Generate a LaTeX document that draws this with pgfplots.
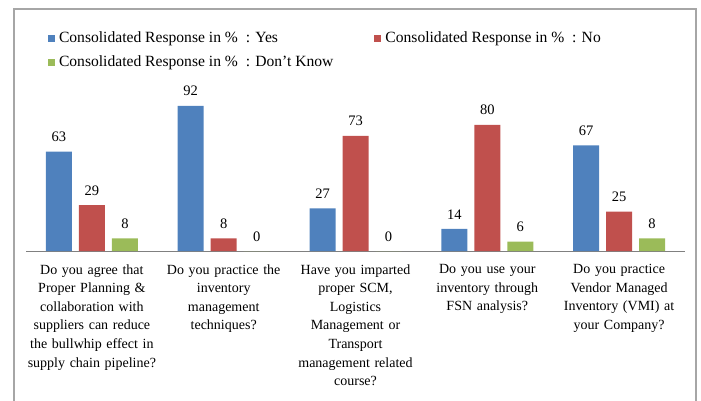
\documentclass[border=0pt]{standalone}
\usepackage{pgfplots}
\pgfplotsset{compat=1.18}
\usepackage{fontspec}
\setmainfont{Liberation Serif}
\definecolor{cblue}{HTML}{4F81BD}
\definecolor{cred}{HTML}{C0504D}
\definecolor{cgreen}{HTML}{9BBB59}
\definecolor{frame}{HTML}{A6A6A6}
\pgfplotsset{sqleg/.style={legend image code/.code={\fill[#1] (0pt,-3.5pt) rectangle (7pt,3.5pt);}}}
\begin{document}
\begin{tikzpicture}[x=1pt,y=1pt]
\begin{axis}[
  at={(0pt,0pt)}, anchor=south west,
  scale only axis,
  width=659pt, height=157.8pt,
  ybar=7pt, bar width=26pt,
  xmin=-0.5, xmax=4.5, ymin=0, ymax=100,
  axis x line*=bottom, axis y line=none,
  x axis line style={draw=gray, line width=0.9pt, -},
  xtick={0,1,2,3,4},
  xtick style={draw=none},
  xticklabels={
    {Do you agree that\\Proper Planning \&\\collaboration with\\suppliers can reduce\\the bullwhip effect in\\supply chain pipeline?},
    {Do you practice the\\inventory\\management\\techniques?},
    {Have you imparted\\proper SCM,\\Logistics\\Management or\\Transport\\management related\\course?},
    {Do you use your\\inventory through\\FSN analysis?},
    {Do you practice\\Vendor Managed\\Inventory (VMI) at\\your Company?}},
  xticklabel style={align=center, text width=150pt, inner sep=0pt,
    font=\fontsize{14}{18.6}\selectfont, yshift=-9pt},
  nodes near coords,
  every node near coord/.append style={font=\fontsize{14.5}{16}\selectfont, anchor=south, inner sep=0pt, yshift=9.5pt},
  /pgf/number format/assume math mode=true,
  legend columns=2,
  legend cell align=left,
  legend style={at={(axis description cs:0.0334,1.3954)}, anchor=north west,
    draw=none, inner sep=0pt, outer sep=0pt,
    font=\fontsize{15.6}{18}\selectfont,
    nodes={inner sep=0pt, text height=12pt, text depth=3.5pt},
    row sep=8.5pt,
    /tikz/every odd column/.append style={column sep=4pt},
    /tikz/every even column/.append style={column sep=41pt}},
  sqleg,
]
\addplot[draw=none, fill=cblue] coordinates {(0,63) (1,92) (2,27) (3,14) (4,67)};
\addplot[draw=none, fill=cred] coordinates {(0,29) (1,8) (2,73) (3,80) (4,25)};
\addplot[draw=none, fill=cgreen] coordinates {(0,8) (1,0) (2,0) (3,6) (4,8)};
\legend{Consolidated Response in \%\ \ : Yes, Consolidated Response in \%\ \ : No, Consolidated Response in \%\ \ : Don't Know}
\end{axis}
\draw[frame, line width=1.4pt] (-12,-152) -- (-12,242) -- (670,242) -- (670,-152);
\pgfresetboundingbox
\useasboundingbox (-26,-149) rectangle (675,251);
\end{tikzpicture}
\end{document}
